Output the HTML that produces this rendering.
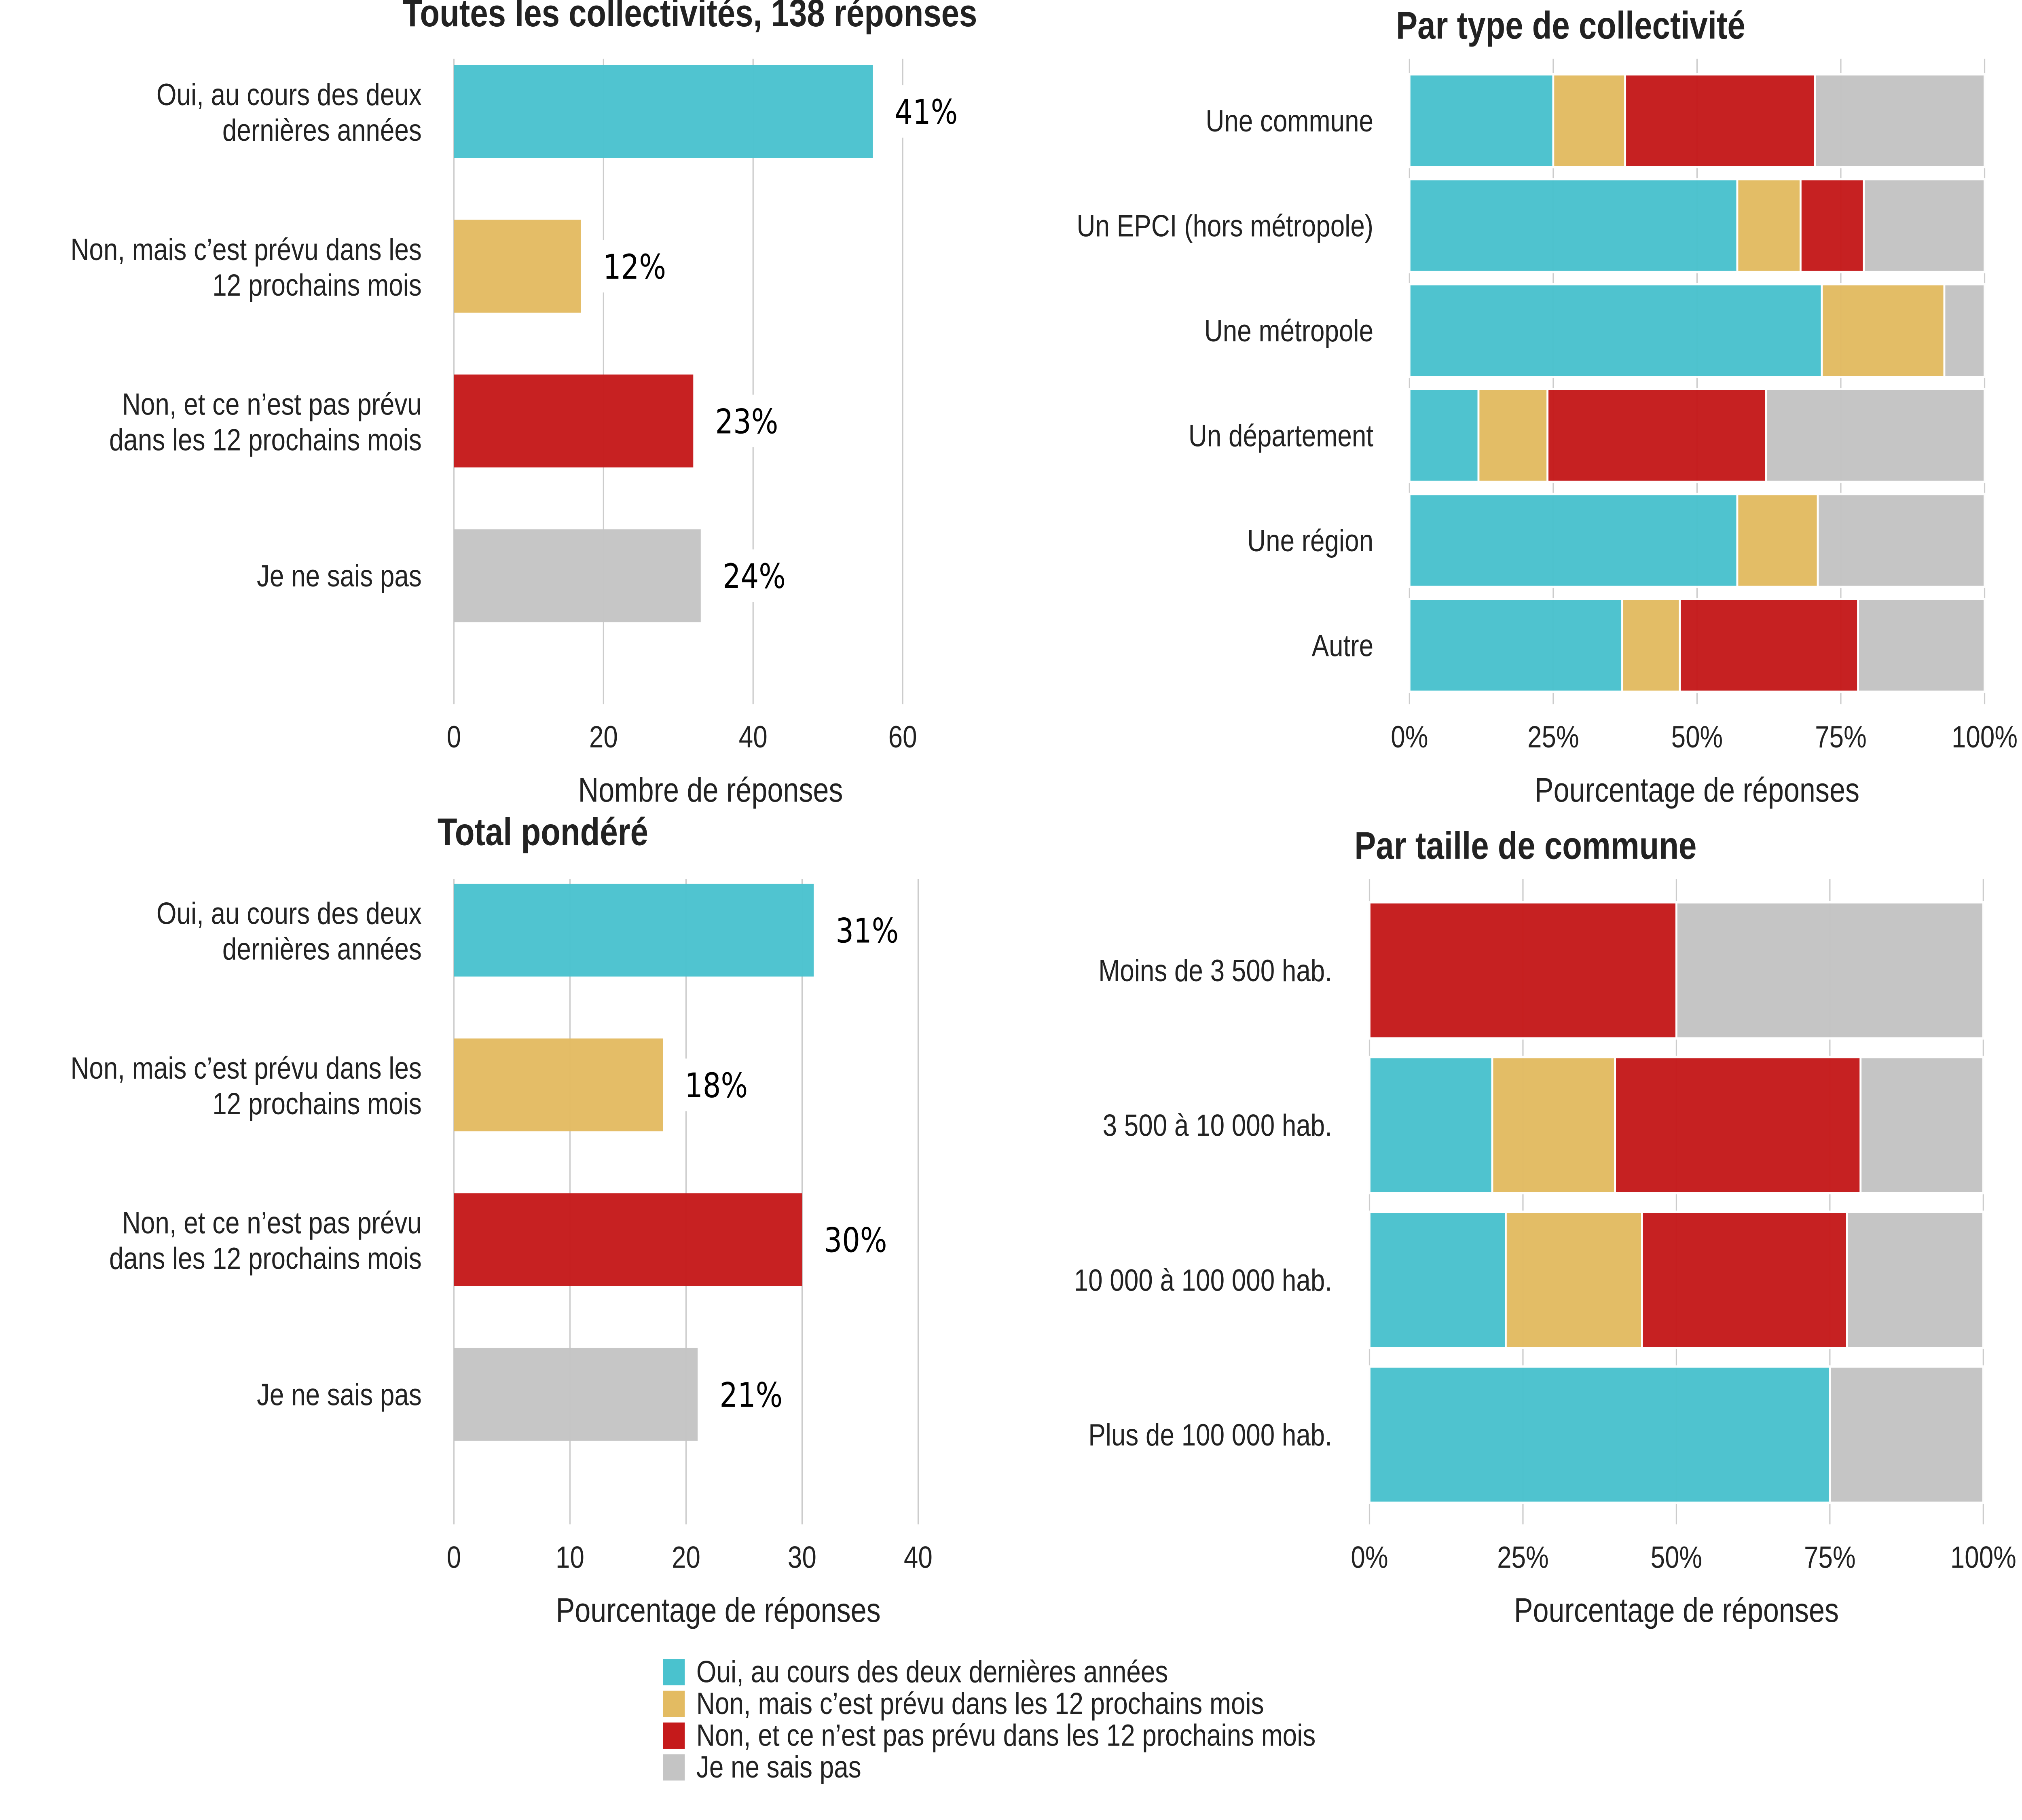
<!DOCTYPE html>
<html><head><meta charset="utf-8"><style>
html,body{margin:0;padding:0;background:#fff;overflow:hidden;width:100vw;height:100vh;}
svg{display:block;position:absolute;left:0;top:0;width:100vw;height:100vh;}
text{font-family:"Liberation Sans",sans-serif;fill:#222;}
</style></head><body>
<svg id="chart" viewBox="0 0 1568 1176" preserveAspectRatio="none" xmlns="http://www.w3.org/2000/svg"></svg>
<script>
// ---- data ----
const respCats = ["Oui, au cours des deux|dernières années","Non, mais c’est prévu dans les|12 prochains mois","Non, et ce n’est pas prévu|dans les 12 prochains mois","Je ne sais pas"];
const countValues = [56, 17, 32, 33];
const countPct = ["41%","12%","23%","24%"];
const countTicks = [0, 20, 40, 60];
const weightedValues = [31, 18, 30, 21];
const weightedPct = ["31%","18%","30%","21%"];
const weightedTicks = [0, 10, 20, 30, 40];
const typeCats = ["Une commune","Un EPCI (hors métropole)","Une métropole","Un département","Une région","Autre"];
const typeOui = [25, 57, 71.7, 12, 57, 37];
const typePrevu = [12.5, 11, 21.3, 12, 14, 10];
const typeNon = [33, 11, 0, 38, 0, 31];
const typeNsp = [29.5, 21, 7, 38, 29, 22];
const sizeCats = ["Moins de 3 500 hab.","3 500 à 10 000 hab.","10 000 à 100 000 hab.","Plus de 100 000 hab."];
const sizeOui = [0, 20, 22.2, 75];
const sizePrevu = [0, 20, 22.2, 0];
const sizeNon = [50, 40, 33.4, 0];
const sizeNsp = [50, 20, 22.2, 25];
const pctTicks = [0, 25, 50, 75, 100];
const pctTickLabels = ["0%","25%","50%","75%","100%"];
const legendLabels = ["Oui, au cours des deux dernières années","Non, mais c’est prévu dans les 12 prochains mois","Non, et ce n’est pas prévu dans les 12 prochains mois","Je ne sais pas"];
const colors = ["#4AC2CE","#E3BB62","#C51A1B","#C4C4C4"];

const svg = document.getElementById('chart');
const NS = "http://www.w3.org/2000/svg";
function mk(tag, attrs, parent){const e=document.createElementNS(NS,tag);for(const k in attrs)e.setAttribute(k,attrs[k]);(parent||svg).appendChild(e);return e;}
function txt(str, x, y, size, anchor, weight, parent){const t=mk('text',{x:x,y:y,'font-size':size,'text-anchor':anchor||'middle','font-weight':weight||'normal'},parent);t.textContent=str;return t;}

function simplePanel(name, title, titleX, x0, x1, maxV, ticks, vals, pcts, top, gridTop, gridBot, axisTitle){
  const g = mk('g',{});
  
  
  const sx = v => x0 + (v/maxV)*(x1-x0);
  const tt = txt(title, titleX, top+25, 25, 'middle', 'bold', g);
  
  
  ticks.forEach(t=>{
    const l = mk('line',{x1:sx(t),x2:sx(t),y1:gridTop,y2:gridBot,stroke:'#ccc','stroke-width':1},g);
    
    
    const tl = txt(String(t), sx(t), gridBot+28, 20, 'middle', 'normal', g);
    
    
  });
  vals.forEach((v,i)=>{
    const yc = top + 80 + i*100;
    const r = mk('rect',{x:x0,y:yc-30,width:sx(v)-x0,height:60,fill:colors[i],opacity:0.97},g);
    
    
    const lines = respCats[i].split('|');
    lines.forEach((ln,j)=>{
      const yy = lines.length===1 ? yc+7 : yc-4+ (j*23);
      const c = txt(ln, 327, yy, 20, 'end', 'normal', g);
      
      
    });
    const bx = sx(v)+12;
    const bg = mk('rect',{x:bx,y:yc-17,width:58,height:34,fill:'#fff'},g);
    
    
    const p = mk('text',{x:bx+5,y:yc+8,'font-size':22,'text-anchor':'start',style:'font-family:"DejaVu Sans",sans-serif;fill:#000'},g);
    p.textContent = pcts[i];
    
    
  });
  const at = txt(axisTitle, (x0+sx(ticks[ticks.length-1]))/2+25, gridBot+63, 22, 'middle', 'normal', g);
  
  
}

function stackPanel(name, title, titleX, x0, x1, cats, series, rowTop, rowStep, rowH, gridTop, gridBot, labelX, axisTitle, axisX){
  const g = mk('g',{});
  
  
  const sx = v => x0 + (v/100)*(x1-x0);
  const tt = txt(title, titleX, gridTop-13, 25, 'middle', 'bold', g);
  
  
  pctTicks.forEach((t,i)=>{
    const l = mk('line',{x1:sx(t),x2:sx(t),y1:gridTop,y2:gridBot,stroke:'#ccc','stroke-width':1},g);
    
    
    const tl = txt(pctTickLabels[i], sx(t), gridBot+28, 20, 'middle', 'normal', g);
    
    
  });
  cats.forEach((c,i)=>{
    const y = rowTop + i*rowStep;
    let acc = 0;
    series.forEach((s,k)=>{
      const v = s[i];
      if(v>0){
        const r = mk('rect',{x:sx(acc),y:y,width:sx(acc+v)-sx(acc),height:rowH,fill:colors[k],stroke:'#fff','stroke-width':1.5,opacity:0.97},g);
        
        
      }
      acc += v;
    });
    const cl = txt(c, labelX, y+rowH/2+7, 20, 'end', 'normal', g);
    
    
  });
  const at = txt(axisTitle, axisX, gridBot+63, 22, 'middle', 'normal', g);
  
  
}

simplePanel('panel-all', 'Toutes les collectivités, 138 réponses', 535, 352, 700, 60, countTicks, countValues, countPct, -8, 38, 455, 'Nombre de réponses');
simplePanel('panel-weighted', 'Total pondéré', 421, 352, 712, 40, weightedTicks, weightedValues, weightedPct, 521, 568, 985, 'Pourcentage de réponses');
stackPanel('panel-type', 'Par type de collectivité', 1218, 1093, 1539, typeCats, [typeOui,typePrevu,typeNon,typeNsp], 48, 67.8, 60, 38, 455, 1065, 'Pourcentage de réponses', 1316);
stackPanel('panel-size', 'Par taille de commune', 1183, 1062, 1538, sizeCats, [sizeOui,sizePrevu,sizeNon,sizeNsp], 583, 100, 88, 568, 985, 1033, 'Pourcentage de réponses', 1300);

const lg = mk('g',{});


legendLabels.forEach((l,i)=>{
  const y = 1072 + i*20.5;
  const r = mk('rect',{x:514,y:y,width:17,height:17,fill:colors[i]},lg);
  
  
  const t = txt(l, 540, y+15, 20, 'start', 'normal', lg);
  
  
});
</script>
</body></html>
